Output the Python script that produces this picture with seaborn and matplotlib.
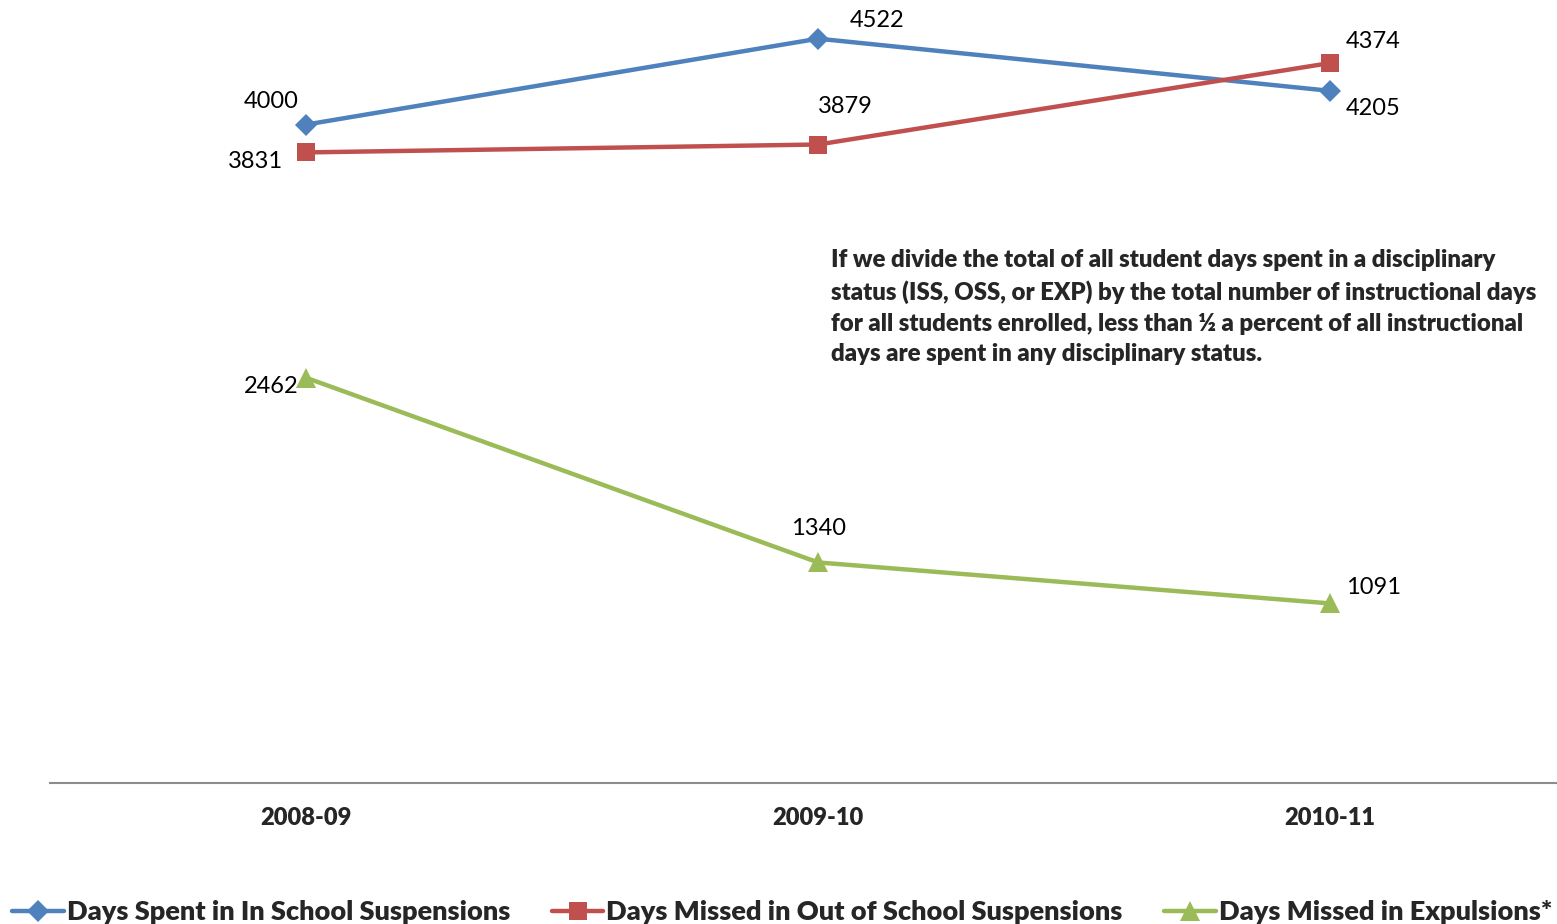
import pandas as pd
import matplotlib.pyplot as plt
from matplotlib.lines import Line2D
import seaborn as sns

# values
years = ['2008-09', '2009-10', '2010-11']
iss_days = [4000, 4522, 4205]
oss_days = [3831, 3879, 4374]
exp_days = [2462, 1340, 1091]
series_names = ['Days Spent in In School Suspensions',
                'Days Missed in Out of School Suspensions',
                'Days Missed in Expulsions*']
note = ('If we divide the total of all student days spent in a disciplinary\n'
        'status (ISS, OSS, or EXP) by the total number of instructional days\n'
        'for all students enrolled, less than \u00bd a percent of all instructional\n'
        'days are spent in any disciplinary status.')

colors = ['#4F81BD', '#C0504D', '#9BBB59']
markers = ['D', 's', '^']
msizes = [11, 13, 15]
# label offsets in pixels (dx, dy) per point
offsets = [[(-35, 23), (59, 18), (43, -18)],
           [(-51, -9), (27, 38), (43, 22)],
           [(-35, -9), (0, 34), (43, 16)]]

sns.set_style('white')
plt.rcParams['font.family'] = ['Lato', 'DejaVu Sans']

fig = plt.figure(figsize=(15.57, 9.24), dpi=100)
ax = fig.add_axes([50 / 1557, 1 - 783 / 924, 1 - 50 / 1557, 783 / 924])

handles = []
for name, vals, c, m, ms, offs in zip(series_names, [iss_days, oss_days, exp_days],
                                      colors, markers, msizes, offsets):
    df = pd.DataFrame({'year': years, 'days': vals})
    sns.lineplot(data=df, x='year', y='days', color=c, marker=m, markersize=ms,
                 markeredgewidth=0, lw=3.2, ax=ax, legend=False)
    for i, v in enumerate(vals):
        ax.annotate(str(v), (i, v), xytext=offs[i], textcoords='offset pixels',
                    ha='center', va='center', fontsize=17, color='black')
    handles.append(Line2D([], [], color=c, marker=m, markersize=ms, markeredgewidth=0, lw=3.2))

ax.set_xlim(-0.5, 2.443)
ax.set_ylim(0, 4757)
ax.set_xlabel('')
ax.set_ylabel('')
ax.set_yticks([])
ax.tick_params(axis='x', length=0, pad=17, labelsize=17)
for lbl in ax.get_xticklabels():
    lbl.set_fontweight('heavy')
for s in ['top', 'right', 'left']:
    ax.spines[s].set_visible(False)
ax.spines['bottom'].set_color('#8c8c8c')
ax.spines['bottom'].set_linewidth(1.5)

fig.text(831 / 1557, 1 - 249 / 924, note, ha='left', va='top', fontsize=17.3,
         fontweight='heavy', linespacing=1.48)

fig.legend(handles, series_names, loc='center left', bbox_to_anchor=(0.008, 0.013),
           ncol=3, frameon=False, handlelength=1.9, handletextpad=0.1,
           columnspacing=1.55, borderaxespad=0, borderpad=0,
           prop={'size': 19.5, 'weight': 'heavy'})

fig.savefig('out.png', dpi=100)
